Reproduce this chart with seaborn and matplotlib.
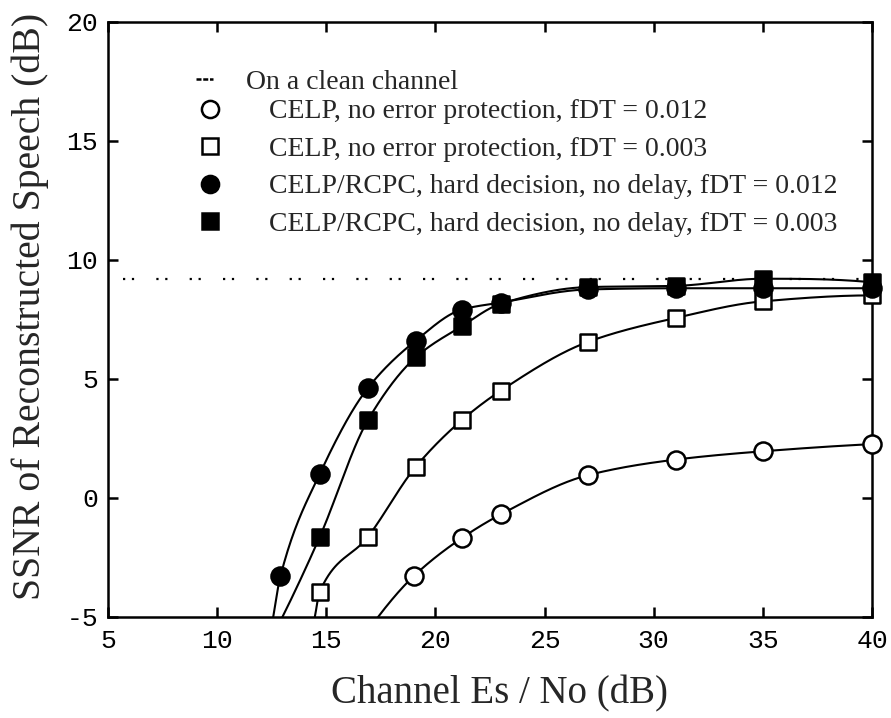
import numpy as np
import matplotlib
matplotlib.use("Agg")
import matplotlib.pyplot as plt
from matplotlib.lines import Line2D
import seaborn as sns

# Channel Es/No (dB) at the measured points
x_rcpc_012 = [12.9, 14.7, 16.9, 19.1, 21.2, 23.0, 27.0, 31.0, 35.0, 40.0]
x_rcpc_003 = [14.7, 16.9, 19.1, 21.2, 23.0, 27.0, 31.0, 35.0, 40.0]
x_celp_003 = [14.7, 16.9, 19.1, 21.2, 23.0, 27.0, 31.0, 35.0, 40.0]
x_celp_012 = [19.0, 21.2, 23.0, 27.0, 31.0, 35.0, 40.0]

# SSNR of reconstructed speech (dB)
y_rcpc_012 = [-3.3, 1.0, 4.6, 6.6, 7.9, 8.2, 8.75, 8.8, 8.8, 8.8]
y_rcpc_003 = [-1.65, 3.25, 5.9, 7.2, 8.15, 8.85, 8.9, 9.2, 9.05]
y_celp_003 = [-3.95, -1.65, 1.3, 3.25, 4.5, 6.55, 7.55, 8.25, 8.5]
y_celp_012 = [-3.3, -1.7, -0.7, 0.95, 1.6, 1.95, 2.25]

# Es/No where each curve drops through the -5 dB floor of the plot
x_floor_rcpc_012 = 12.57
x_floor_rcpc_003 = 13.0
x_floor_celp_003 = 14.48
x_floor_celp_012 = 17.38
y_floor = -5.0

clean_channel_ssnr = 9.2

labels = [
    "CELP, no error protection, fDT = 0.012",
    "CELP, no error protection, fDT = 0.003",
    "CELP/RCPC, hard decision, no delay, fDT = 0.012",
    "CELP/RCPC, hard decision, no delay, fDT = 0.003",
]
clean_label = "On a clean channel"
x_ticks = [5, 10, 15, 20, 25, 30, 35, 40]
y_ticks = [-5, 0, 5, 10, 15, 20]


def pchip(x, y, n=500, pad=0.6):
    """Monotone piecewise-cubic (Fritsch-Carlson) curve, extended linearly on the left."""
    x = np.asarray(x, float)
    y = np.asarray(y, float)
    h = np.diff(x)
    delta = np.diff(y) / h
    m = len(x)
    d = np.zeros(m)
    for k in range(1, m - 1):
        if delta[k - 1] * delta[k] > 0:
            w1 = 2 * h[k] + h[k - 1]
            w2 = h[k] + 2 * h[k - 1]
            d[k] = (w1 + w2) / (w1 / delta[k - 1] + w2 / delta[k])

    def end_slope(h0, h1, d0, d1):
        s = ((2 * h0 + h1) * d0 - h0 * d1) / (h0 + h1)
        if np.sign(s) != np.sign(d0):
            return 0.0
        if np.sign(d0) != np.sign(d1) and abs(s) > abs(3 * d0):
            return 3 * d0
        return s

    d[0] = end_slope(h[0], h[1], delta[0], delta[1])
    d[-1] = end_slope(h[-1], h[-2], delta[-1], delta[-2])

    xs = np.linspace(x[0], x[-1], n)
    idx = np.clip(np.searchsorted(x, xs) - 1, 0, m - 2)
    hh = h[idx]
    t = (xs - x[idx]) / hh
    h00 = 2 * t ** 3 - 3 * t ** 2 + 1
    h10 = t ** 3 - 2 * t ** 2 + t
    h01 = -2 * t ** 3 + 3 * t ** 2
    h11 = t ** 3 - t ** 2
    ys = h00 * y[idx] + h10 * hh * d[idx] + h01 * y[idx + 1] + h11 * hh * d[idx + 1]
    # short straight run below the floor so the clipped end meets the axis cleanly
    xl = np.array([x[0] - pad])
    yl = y[0] + d[0] * (xl - x[0])
    return np.concatenate([xl, xs]), np.concatenate([yl, ys])


sns.set_style("ticks")
plt.rcParams["font.family"] = ["Liberation Serif", "DejaVu Serif"]

fig = plt.figure(figsize=(8.91, 7.18), dpi=100)
ax = fig.add_axes([0.1212, 0.1411, 0.8575, 0.8287])

series = [
    (x_celp_012, y_celp_012, x_floor_celp_012, "o", "white", 13),
    (x_celp_003, y_celp_003, x_floor_celp_003, "s", "white", 12),
    (x_rcpc_012, y_rcpc_012, x_floor_rcpc_012, "o", "black", 13),
    (x_rcpc_003, y_rcpc_003, x_floor_rcpc_003, "s", "black", 12),
]

# clean-channel reference level
ax.axhline(clean_channel_ssnr, xmin=0.02, xmax=1.0, color="black", lw=1.6,
           linestyle=(0, (1, 3, 1, 10)))

for xs, ys, xf, mk, fc, ms in series:
    cx, cy = pchip([xf] + list(xs), [y_floor] + list(ys))
    sns.lineplot(x=cx, y=cy, ax=ax, color="black", lw=1.5, sort=False,
                 estimator=None, zorder=2)
for xs, ys, xf, mk, fc, ms in series:
    sns.scatterplot(x=xs, y=ys, ax=ax, marker=mk, s=ms ** 2, facecolor=fc,
                    edgecolor="black", linewidth=1.8, zorder=3)
    ax.collections[-1].set_clip_on(False)

ax.set_xlim(5, 40)
ax.set_ylim(-5, 20)
ax.set_xticks(x_ticks)
ax.set_yticks(y_ticks)
ax.set_xticklabels([str(t) for t in x_ticks], family="Liberation Mono", fontsize=19)
ax.set_yticklabels([str(t) for t in y_ticks], family="Liberation Mono", fontsize=19)
ax.tick_params(direction="in", length=7, width=1.8, top=True, right=True,
               pad=7, colors="black")
ax.tick_params(axis="x", pad=9)
for sp in ax.spines.values():
    sp.set_linewidth(1.8)
    sp.set_color("black")

ax.set_xlabel("Channel Es / No (dB)", fontsize=28)
ax.set_ylabel("SSNR of Reconstructed Speech (dB)", fontsize=28.6)
ax.xaxis.set_label_coords(0.512, -0.098)
ax.yaxis.set_label_coords(-0.077, 0.521)

# legend: clean-channel entry on its own row, then the four series
clean_handle = [Line2D([], [], color="black", lw=1.8, linestyle=(0, (2, 0.7)))]
leg1 = ax.legend(clean_handle, [clean_label], loc="upper left",
                 bbox_to_anchor=(0.115, 0.92), frameon=False, fontsize=20,
                 handlelength=0.6, handletextpad=1.2, borderpad=0, borderaxespad=0)
ax.add_artist(leg1)
handles = [Line2D([], [], linestyle="none", marker=mk, markersize=ms * 0.95,
                  markerfacecolor=fc, markeredgecolor="black", markeredgewidth=1.8)
           for _, _, _, mk, fc, ms in series]
ax.legend(handles, labels, loc="upper left", bbox_to_anchor=(0.115, 0.870),
          frameon=False, fontsize=20, handlelength=1.0, handletextpad=1.65,
          labelspacing=0.43, borderpad=0, borderaxespad=0)

fig.savefig("out.png", dpi=100)
